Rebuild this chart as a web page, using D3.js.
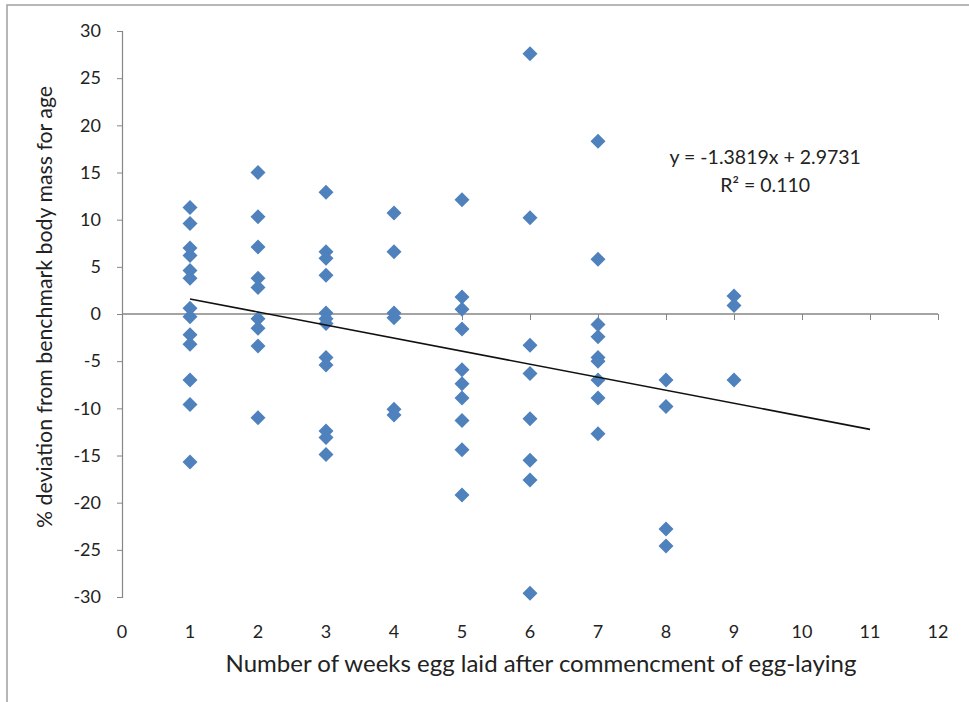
<!DOCTYPE html>
<html>
<head>
<meta charset="utf-8">
<script src="https://cdn.jsdelivr.net/npm/d3@7/dist/d3.min.js"></script>
<style>
    body { margin: 0; background: #fff; }
    text { font-family: Lato, "Open Sans", sans-serif; fill: #222; }
</style>
</head>
<body>
<svg id="chart" width="969" height="702"></svg>
<script>
// weeks after commencement of egg-laying, one entry per bird
var weeks = [
    1, 1, 1, 1, 1, 1, 1, 1, 1, 1, 1, 1, 1,
    2, 2, 2, 2, 2, 2, 2, 2, 2,
    3, 3, 3, 3, 3, 3, 3, 3, 3, 3, 3, 3,
    4, 4, 4, 4, 4, 4,
    5, 5, 5, 5, 5, 5, 5, 5, 5, 5,
    6, 6, 6, 6, 6, 6, 6, 6,
    7, 7, 7, 7, 7, 7, 7, 7, 7,
    8, 8, 8, 8,
    9, 9, 9
];
// % deviation from benchmark body mass, same order as weeks
var deviation = [
    11.3, 9.6, 7.0, 6.2, 4.6, 3.8, 0.6, -0.3, -2.2, -3.2, -7.0, -9.6, -15.7,
    15.0, 10.3, 7.1, 3.8, 2.8, -0.5, -1.5, -3.4, -11.0,
    12.9, 6.6, 5.9, 4.1, 0.1, -0.5, -1.0, -4.6, -5.4, -12.4, -13.1, -14.9,
    10.7, 6.6, 0.1, -0.4, -10.1, -10.7,
    12.1, 1.8, 0.5, -1.6, -5.9, -7.4, -8.9, -11.3, -14.4, -19.2,
    27.6, 10.2, -3.3, -6.3, -11.1, -15.5, -17.6, -29.6,
    18.3, 5.8, -1.1, -2.4, -4.6, -5.0, -7.0, -8.9, -12.7,
    -7.0, -9.8, -22.8, -24.6,
    1.9, 0.9, -7.0
];
var xTicks = [0, 1, 2, 3, 4, 5, 6, 7, 8, 9, 10, 11, 12];
var yTicks = [-30, -25, -20, -15, -10, -5, 0, 5, 10, 15, 20, 25, 30];
var slope = -1.3819, intercept = 2.9731, rSquared = "0.110";
var trendRange = [1, 11];

var svg = d3.select("#chart");

// outer frame (only top and left edges fall inside the picture)
svg.append("rect")
    .attr("x", 7).attr("y", 5)
    .attr("width", 1000).attr("height", 800)
    .attr("fill", "none")
    .attr("stroke", "#a0a0a0")
    .attr("stroke-width", 1.5);

var margin = {top: 31, right: 31, bottom: 105, left: 122},
    width = +svg.attr("width") - margin.left - margin.right,
    height = +svg.attr("height") - margin.top - margin.bottom,
    g = svg.append("g").attr("transform", "translate(" + margin.left + "," + margin.top + ")");

var x = d3.scaleLinear().domain([0, 12]).range([0, width]),
    y = d3.scaleLinear().domain([-30, 30]).range([height, 0]);

// y axis on the left, plain hyphen for negatives
var axisY = g.append("g")
    .call(d3.axisLeft(y).tickValues(yTicks).tickSize(5).tickPadding(16)
        .tickFormat(function (d) { return String(d); }));
axisY.select(".domain").attr("stroke", "#868686").attr("stroke-width", 1.2);
axisY.selectAll(".tick line").attr("stroke", "#868686");
axisY.selectAll(".tick text").style("font-size", "18px").attr("fill", "#222");

// x axis crossing at y = 0, labels low
var axisX = g.append("g")
    .attr("transform", "translate(0," + y(0) + ")")
    .call(d3.axisBottom(x).tickValues(xTicks).tickSize(6).tickFormat(""));
axisX.select(".domain").attr("stroke", "#868686").attr("stroke-width", 1.5).attr("d", "M0,0H" + width);
axisX.selectAll(".tick line").attr("stroke", "#868686");

g.append("g")
    .selectAll("text")
    .data(xTicks)
    .enter().append("text")
    .attr("x", function (d) { return x(d); })
    .attr("y", height + 41)
    .attr("text-anchor", "middle")
    .style("font-size", "18px")
    .text(function (d) { return d; });

// diamonds
var points = weeks.map(function (w, i) { return {x: w, y: deviation[i]}; });
var r = 7.5;
g.append("g")
    .selectAll("path")
    .data(points)
    .enter().append("path")
    .attr("transform", function (d) {
        return "translate(" + x(d.x) + "," + y(d.y) + ")";
    })
    .attr("d", "M0," + (-r) + "L" + r + ",0L0," + r + "L" + (-r) + ",0Z")
    .attr("fill", "#4f81bd");

// linear trend line
var trendLine = d3.line()
    .x(function (d) { return x(d); })
    .y(function (d) { return y(slope * d + intercept); });

g.append("path")
    .datum(trendRange)
    .attr("d", trendLine)
    .attr("fill", "none")
    .attr("stroke", "#111")
    .attr("stroke-width", 1.6);

// equation label
var eqX = x(9.4) + 4;
var eq = g.append("text")
    .attr("x", eqX)
    .attr("y", y(15.9))
    .attr("text-anchor", "middle")
    .style("font-size", "19.5px");
eq.append("tspan").text("y = " + slope + "x + " + intercept);
eq.append("tspan")
    .attr("x", eqX)
    .attr("dy", "1.45em")
    .text("R² = " + rSquared);

// axis titles
svg.append("text")
    .attr("x", 541)
    .attr("y", 672)
    .attr("text-anchor", "middle")
    .style("font-size", "24px")
    .text("Number of weeks egg laid after commencment of egg-laying");

svg.append("text")
    .attr("transform", "translate(52," + 307 + ") rotate(-90)")
    .attr("text-anchor", "middle")
    .style("font-size", "21.3px")
    .text("% deviation from benchmark body mass for age");
</script>
</body>
</html>
